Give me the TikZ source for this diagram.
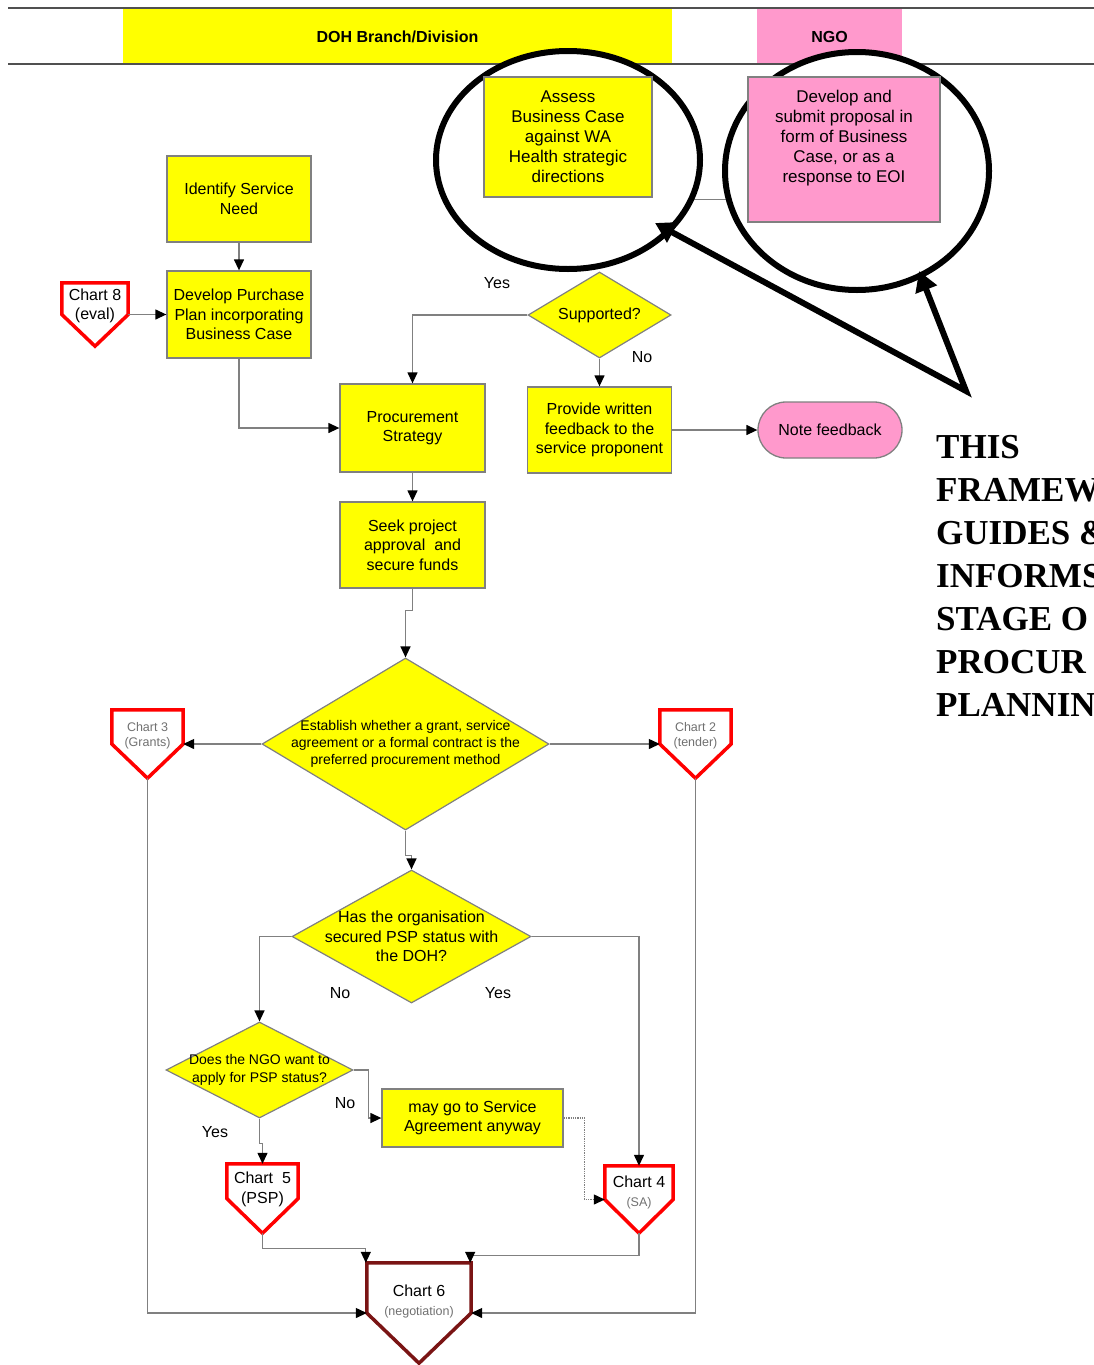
\documentclass[tikz,border=0pt]{standalone}
\usepackage{fontspec}
\setmainfont{Liberation Sans}
\newfontfamily\framefont{Liberation Serif}
\usetikzlibrary{shapes.geometric,arrows.meta}

\definecolor{dohyellow}{HTML}{FFFF00}
\definecolor{ngopink}{HTML}{FF99CC}
\definecolor{linegray}{HTML}{808080}
\definecolor{headgray}{HTML}{505050}
\definecolor{chartred}{HTML}{FF0000}
\definecolor{chartmaroon}{HTML}{7A1414}
\definecolor{labelgray}{HTML}{707070}

\pgfdeclarelayer{background}
\pgfsetlayers{background,main}

\newcommand\fs[2]{\fontsize{#1}{#2}\selectfont}
\newcommand\smalltag{\fs{12.5}{15}\color{labelgray}}
% outline of a chart reference (house shape pointing down)
\newcommand\pentline[2]{\draw[pentedge, draw=#2] (#1.north west) -- (#1.north east) -- (#1.east) -- (#1.south) -- (#1.west) -- cycle;}

\tikzset{
  procbox/.style 2 args={draw=linegray, line width=1.3pt, fill=dohyellow, align=center,
    inner sep=0pt, minimum width=#1, minimum height=#2, font=\fs{16}{19.5}},
  decision/.style 2 args={diamond, draw=linegray, line width=1.2pt, fill=dohyellow,
    align=center, inner sep=-60pt, minimum width=#1, minimum height=#2, font=\fs{16}{19.5}},
  pent/.style 2 args={minimum width=#1, minimum height=#2, inner sep=0pt},
  pentlabel/.style={align=center, inner sep=0pt, yshift=8.5pt, font=\fs{16}{19.5}},
  pentedge/.style={line width=3.5pt, line join=miter},
  boxlabel/.style={align=center, inner sep=0pt, font=\fs{17}{20}},
  conn/.style={draw=linegray, line width=1.3pt, -{Triangle[length=11pt, width=10pt, color=black]}},
  callout/.style 2 args={ellipse, draw=black, line width=6pt, fill=white, inner sep=0pt,
    minimum width=#1, minimum height=#2},
  pointer/.style={line width=6pt, line join=miter,
    {Triangle[length=20pt, width=22pt]}-{Triangle[length=20pt, width=22pt]}},
  answer/.style={font=\fs{16}{19}, inner sep=0pt},
  headband/.style 2 args={fill=#1, minimum width=#2, minimum height=55pt, inner sep=0pt,
    font=\bfseries\fs{16}{19}},
  headline/.style={draw=headgray, line width=2pt},
  bigword/.style={font=\framefont\bfseries\fs{35}{43}, inner sep=0pt, anchor=base west},
}

\begin{document}
\begin{tikzpicture}[x=1pt, y=-1pt]
\useasboundingbox (0,0) rectangle (1094,1365);
\clip (0,0) rectangle (1094,1365);

% header
\node[headband={dohyellow}{549pt}] (dohhead) at (397.5,36.5) {DOH Branch/Division};
\node[headband={ngopink}{145pt}] (ngohead) at (829.5,36.5) {NGO};
\draw[headline] (8,8) -- (1094,8);
\draw[headline] (8,64) -- (1094,64);

% highlighted start
\node[callout={264pt}{218pt}] (ring1) at (568,160) {};
\node[callout={264pt}{238pt}] (ring2) at (857,171) {};
\node[procbox={168pt}{120pt}, font=\fs{17}{20}] (abc) at (568,137)
  {Assess\\Business Case\\against WA\\Health strategic\\directions};
\node[procbox={192pt}{145pt}, fill=ngopink,
  label={[boxlabel, yshift=11.5pt]center:Develop and\\submit proposal in\\form of Business\\Case, or as a\\response to EOI}]
  (dsp) at (844,149.5) {};
\begin{pgfonlayer}{background}
  \draw[draw=linegray, line width=1.3pt] ([yshift=-1.5pt]abc.south east) -- ([yshift=-1.5pt]abc.south east -| dsp.west);
\end{pgfonlayer}

% planning steps
\node[procbox={144pt}{86pt}] (isn) at (239,199) {Identify Service\\Need};
\node[procbox={144pt}{87pt}] (dpp) at (239,314.5) {Develop Purchase\\Plan incorporating\\Business Case};
\node[pent={66pt}{63pt}, label={[pentlabel]center:Chart 8\\(eval)}] (c8) at (95,314.5) {};
\pentline{c8}{chartred}
\node[decision={143pt}{86pt}] (sup) at (599.5,315) {Supported?};
\node[procbox={145pt}{88pt}] (ps) at (412.5,428) {Procurement\\Strategy};
\node[procbox={144pt}{86pt}] (pwf) at (599.5,430) {Provide written\\feedback to the\\service proponent};
\node[procbox={144pt}{56pt}, fill=ngopink, rounded corners=28pt] (nf) at (830,430) {Note feedback};
\node[procbox={145pt}{86pt}] (spa) at (412.5,545) {Seek project\\approval\ \ and\\secure funds};

% choice of method
\node[decision={287pt}{172pt}, font=\fs{14}{17}] (est) at (405.5,744)
  {Establish whether a grant, service\\agreement or a formal contract is the\\preferred procurement method};
\node[pent={71pt}{68pt}, label={[pentlabel, font=\smalltag]center:Chart 3\\(Grants)}] (c3) at (147.5,744) {};
\pentline{c3}{chartred}
\node[pent={71pt}{68pt}, label={[pentlabel, font=\smalltag]center:Chart 2\\(tender)}] (c2) at (695.5,744) {};
\pentline{c2}{chartred}
\node[decision={239pt}{133pt}] (psp) at (411.5,936.5) {Has the organisation\\secured PSP status with\\the DOH?};
\node[decision={187pt}{96pt}, font=\fs{14}{18}] (ngo) at (259.5,1070) {Does the NGO want to\\apply for PSP status?};
\node[procbox={181pt}{58pt}] (sa) at (472.5,1118) {may go to Service\\Agreement anyway};
\node[pent={71pt}{69pt}, label={[pentlabel, yshift=0.5pt]center:Chart\ \ 5\\(PSP)}] (c5) at (262.5,1198.5) {};
\pentline{c5}{chartred}
\node[pent={68pt}{67pt}, label={[pentlabel, yshift=-1.5pt]center:Chart 4\\\smalltag (SA)}] (c4) at (639,1199.5) {};
\pentline{c4}{chartred}
\node[pent={104pt}{100pt}, label={[pentlabel, yshift=3pt]center:Chart 6\\\smalltag (negotiation)}] (c6) at (419,1313) {};
\pentline{c6}{chartmaroon}

% answers
\node[answer] (yes1) at (497,283) {Yes};
\node[answer] (no1) at (642,357) {No};
\node[answer] (no2) at (340,993) {No};
\node[answer] (yes2) at (498,993) {Yes};
\node[answer] (no3) at (345,1103) {No};
\node[answer] (yes3) at (215,1132) {Yes};

% connectors
\draw[conn] (isn) -- (dpp);
\draw[conn] (c8) -- (dpp);
\draw[conn] (dpp.south) |- (ps.west);
\draw[conn] (sup.west) -| (ps.north);
\draw[conn] (sup) -- (pwf);
\draw[conn] (pwf) -- (nf);
\draw[conn] (ps) -- (spa);
\draw[conn] (spa.south) -- ++(0,22) -| (est.north);
\draw[conn] (est) -- (c3);
\draw[conn] (est) -- (c2);
\draw[conn] (est.south) -- ++(0,25) -| (psp.north);
\draw[conn] (psp.west) -| (ngo.north);
\draw[conn] (psp.east) -| (c4.north);
\draw[conn] (ngo.east) -- ++(15,0) |- (sa.west);
\draw[conn, densely dotted] (sa.east) -- ++(21,0) |- (c4.west);
\draw[conn] (ngo.south) -- ++(0,25) -| (c5.north);
\draw[conn] (c5.south) -- ++(0,15) -| ([xshift=-1pt]c6.north west);
\draw[conn] (c4.south) -- ++(0,22) -| ([xshift=-1pt]c6.north east);
\draw[conn] (c3.south) |- (c6.west);
\draw[conn] (c2.south) |- (c6.east);

% pointers to the highlighted start
\coordinate (tipA) at (655,223);
\coordinate (tipB) at (919,271);
\coordinate (meet) at (966,391);
\draw[pointer] (tipA) -- (meet) -- (tipB);

% note beside the chart
\foreach \word [count=\i] in {THIS, FRAMEW, GUIDES \&, INFORMS, STAGE O, PROCUR, PLANNIN}
  \node[bigword] (line\i) at (936,415+43*\i) {\word};
\end{tikzpicture}
\end{document}
